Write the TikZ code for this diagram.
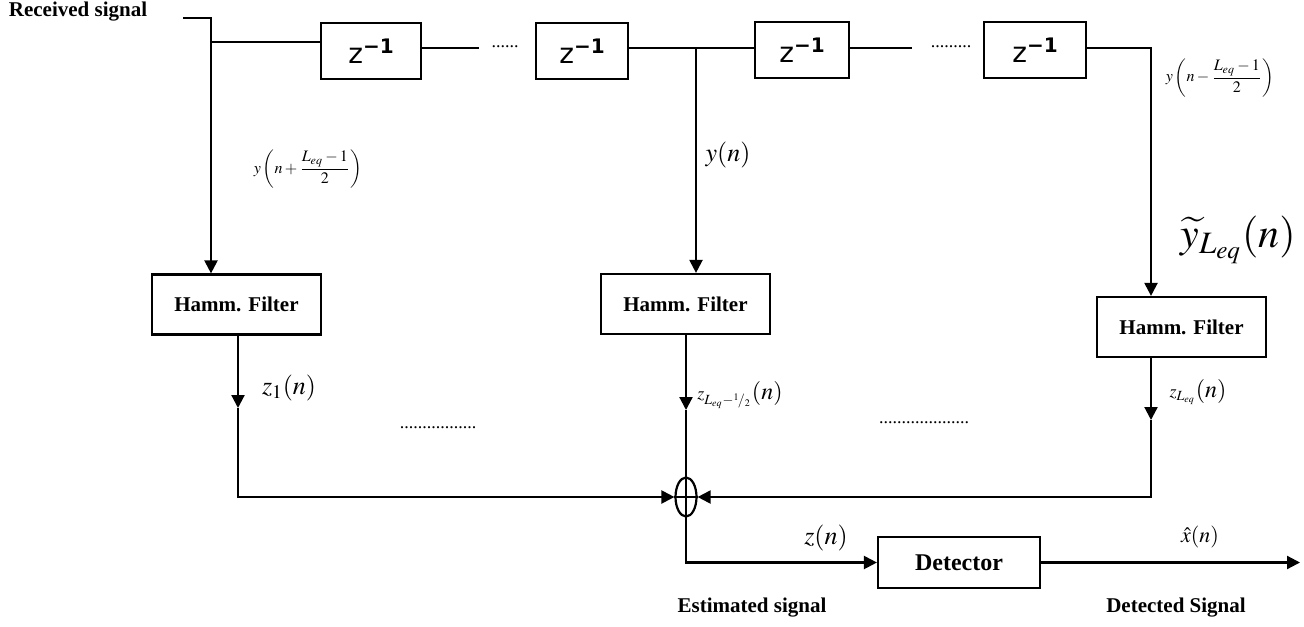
\documentclass[tikz,border=0pt]{standalone}
\usepackage{amsmath}
\usepackage{mathptmx}
\usepackage{fontspec}
\setmainfont{Liberation Serif}
\newfontfamily\zfont{DejaVu Sans}
\usetikzlibrary{calc, arrows.meta, positioning, shapes.geometric}

\newcommand{\zinv}{{\zfont\fontsize{14}{14}\selectfont z\raisebox{5pt}{\fontsize{10}{10}\selectfont\bfseries −1}}}

\begin{document}
\begin{tikzpicture}[x=0.5pt, y=-0.5pt, line width=1.1pt,
    >={Triangle[length=6.5pt, width=6.5pt]},
    delay/.style={draw, rectangle, minimum width=50pt, minimum height=28pt,
                  inner sep=0pt},
    filt/.style ={draw, rectangle, minimum width=84.5pt, minimum height=30pt,
                  font=\bfseries\fontsize{10.5}{12}\selectfont},
    sum/.style  ={draw, ellipse, minimum width=10.5pt, minimum height=19.5pt,
                  inner sep=0pt},
    caption/.style={font=\bfseries\fontsize{10.5}{12}\selectfont},
    dots/.style ={font=\fontsize{9}{10}\selectfont, inner sep=0pt, anchor=base}
  ]
  \useasboundingbox (0,0) rectangle (1304,626);

  % Nodes
  \node[caption] (recv) at (78,12) {Received signal};
  \node[delay] (d1) at (371,51) {\zinv};
  \node[delay, minimum width=46pt] (d2) at (582,51) {\zinv};
  \node[delay, minimum width=47pt] (d3) at (802,50) {\zinv};
  \node[delay, minimum width=51pt] (d4) at (1035,50) {\zinv};
  \node[dots] (dotsA) at (505,48) {......};
  \node[dots] (dotsB) at (951,48) {.........};

  \node[filt] (f1) at (236.5,304.5) {Hamm. Filter};
  \node[filt] (f2) at (685.5,304)   {Hamm. Filter};
  \node[filt] (f3) at (1181.5,327)  {Hamm. Filter};

  \node[sum] (sum) at (686,497) {};
  \node[draw, rectangle, minimum width=81pt, minimum height=25.5pt,
        font=\bfseries\fontsize{12}{14}\selectfont] (det) at (959,562.5) {Detector};

  \node[dots] (dotsC) at (438,428) {.................};
  \node[dots] (dotsD) at (924,423) {....................};

  % Labels
  \node[font=\fontsize{8}{10}\selectfont] (yplus) at (308,169)
    {$y\left(n+\dfrac{L_{eq}-1}{2}\right)$};
  \node[font=\fontsize{8}{10}\selectfont] (yminus) at (1220,78)
    {$y\left(n-\dfrac{L_{eq}-1}{2}\right)$};
  \node[font=\fontsize{13}{15}\selectfont] (yn) at (728,155) {$y(n)$};
  \node[font=\fontsize{21}{23}\selectfont, inner sep=0pt] (ytil) at (1238,240)
    {$\widetilde{y}_{L_{eq}}(n)$};
  \node[font=\fontsize{13}{15}\selectfont] (z1) at (289,388) {$z_1(n)$};
  \node (zmid) at (740,395)
    {{\fontsize{9}{10}\selectfont$z_{L_{eq}-{}^1\!/_2}$}{\fontsize{12}{14}\selectfont$(n)$}};
  \node (zlast) at (1198,392)
    {{\fontsize{9}{10}\selectfont$z_{L_{eq}}$}{\fontsize{12}{14}\selectfont$(n)$}};
  \node[font=\fontsize{13}{15}\selectfont] (zn) at (826,538) {$z(n)$};
  \node[font=\fontsize{11}{13}\selectfont, inner sep=0pt] (xhat) at (1200,537) {$\hat{x}(n)$};
  \node[caption] (est) at (752,608) {Estimated signal};
  \node[caption] (dtc) at (1176,608) {Detected Signal};

  % Tap points
  \coordinate (in)   at (183,18);
  \coordinate (tapA) at (211,42);
  \coordinate (rowB) at (0,48);
  \coordinate (tapB) at (696,48);
  \coordinate (tapC) at (1151,48);
  \coordinate (l1)   at (238,408);
  \coordinate (m1)   at (686,410);
  \coordinate (r1)   at (1151,420);
  \coordinate (out)  at (1300,562.5);

  % Delay line
  \draw[->] (in) -| (f1.north -| tapA);
  \draw (tapA) -- (d1.west |- tapA);
  \draw (d1.east |- rowB) -- (479,48);
  \draw (d2.east |- rowB) -- (d3.west |- rowB);
  \draw (d3.east |- rowB) -- (912,48);
  \draw[->] (d4.east |- rowB) -| (f3.north -| tapC);
  \draw[->] (tapB) -- (f2.north -| tapB);

  % Filters to the sum
  \draw[->] (f1.south -| l1) -- (l1);
  \draw[->] (l1) |- (sum.west);
  \draw[->] (f2.south -| m1) -- (m1);
  \draw (m1) -- (sum.north);
  \draw[->] (f3.south -| r1) -- (r1);
  \draw[->] (r1) |- (sum.east);
  \draw[line width=0.7pt] (sum.north) -- (sum.south) (sum.west) -- (sum.east);

  % Detector
  \draw[->] (sum.south) |- (det.west);
  \draw[->] (det.east) -- (out);
\end{tikzpicture}
\end{document}
